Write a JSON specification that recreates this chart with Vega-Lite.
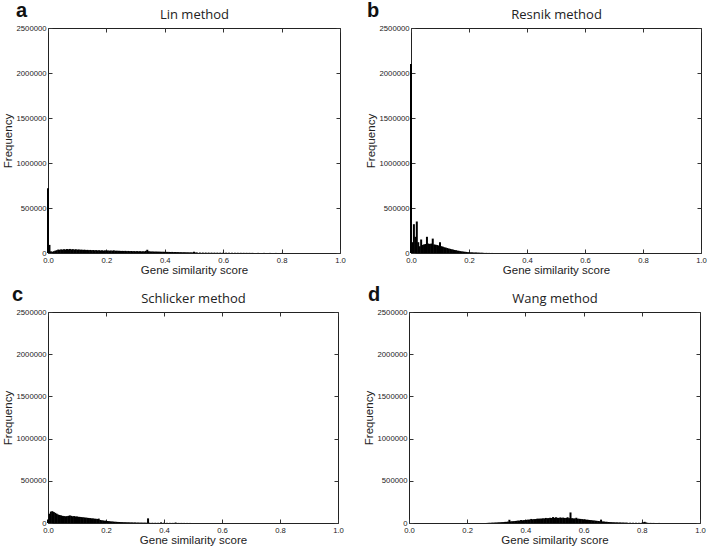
{
  "$schema": "https://vega.github.io/schema/vega-lite/v6.json",
  "padding": {"left": 1, "top": 0, "right": 0, "bottom": 0},
  "background": "white",
  "datasets": {
    "lin": [
      {"s":0.000,"f":720000},{"s":0.005,"f":90000},{"s":0.010,"f":18000},{"s":0.015,"f":14000},{"s":0.020,"f":20000},{"s":0.025,"f":26000},{"s":0.030,"f":31000},{"s":0.035,"f":38000},{"s":0.040,"f":36000},{"s":0.045,"f":40000},
      {"s":0.050,"f":38000},{"s":0.055,"f":42000},{"s":0.060,"f":39000},{"s":0.065,"f":44000},{"s":0.070,"f":41000},{"s":0.075,"f":45000},{"s":0.080,"f":40000},{"s":0.085,"f":43000},{"s":0.090,"f":38000},{"s":0.095,"f":42000},
      {"s":0.100,"f":37000},{"s":0.105,"f":40000},{"s":0.110,"f":36000},{"s":0.115,"f":38000},{"s":0.120,"f":34000},{"s":0.125,"f":37000},{"s":0.130,"f":33000},{"s":0.135,"f":35000},{"s":0.140,"f":32000},{"s":0.145,"f":34000},
      {"s":0.150,"f":31000},{"s":0.155,"f":33000},{"s":0.160,"f":30000},{"s":0.165,"f":32000},{"s":0.170,"f":29000},{"s":0.175,"f":31000},{"s":0.180,"f":28000},{"s":0.185,"f":30000},{"s":0.190,"f":27000},{"s":0.195,"f":29000},
      {"s":0.200,"f":27000},{"s":0.205,"f":28000},{"s":0.210,"f":26000},{"s":0.215,"f":28000},{"s":0.220,"f":25000},{"s":0.225,"f":30000},{"s":0.230,"f":25000},{"s":0.235,"f":26000},{"s":0.240,"f":24000},{"s":0.245,"f":25000},
      {"s":0.250,"f":23000},{"s":0.255,"f":24000},{"s":0.260,"f":22000},{"s":0.265,"f":24000},{"s":0.270,"f":21000},{"s":0.275,"f":23000},{"s":0.280,"f":21000},{"s":0.285,"f":22000},{"s":0.290,"f":20000},{"s":0.295,"f":21000},
      {"s":0.300,"f":19000},{"s":0.305,"f":21000},{"s":0.310,"f":19000},{"s":0.315,"f":20000},{"s":0.320,"f":18000},{"s":0.325,"f":19000},{"s":0.330,"f":18000},{"s":0.335,"f":24000},{"s":0.340,"f":36000},{"s":0.345,"f":20000},
      {"s":0.350,"f":17000},{"s":0.355,"f":17000},{"s":0.360,"f":16000},{"s":0.365,"f":16000},{"s":0.370,"f":15000},{"s":0.375,"f":16000},{"s":0.380,"f":14000},{"s":0.385,"f":15000},{"s":0.390,"f":13000},{"s":0.395,"f":14000},
      {"s":0.400,"f":13000},{"s":0.405,"f":13000},{"s":0.410,"f":12000},{"s":0.415,"f":12000},{"s":0.420,"f":11000},{"s":0.425,"f":12000},{"s":0.430,"f":10000},{"s":0.435,"f":11000},{"s":0.440,"f":10000},{"s":0.445,"f":10000},
      {"s":0.450,"f":9000},{"s":0.455,"f":9000},{"s":0.460,"f":8000},{"s":0.465,"f":8500},{"s":0.470,"f":8000},{"s":0.475,"f":7500},{"s":0.480,"f":7000},{"s":0.485,"f":7000},{"s":0.490,"f":6500},{"s":0.495,"f":6500},
      {"s":0.500,"f":14000},{"s":0.505,"f":6000},{"s":0.510,"f":5800},{"s":0.520,"f":5500},{"s":0.530,"f":5200},{"s":0.540,"f":5000},{"s":0.550,"f":4700},{"s":0.560,"f":4500},{"s":0.570,"f":4200},{"s":0.580,"f":4000},
      {"s":0.590,"f":3800},{"s":0.600,"f":3500},{"s":0.610,"f":3300},{"s":0.620,"f":3100},{"s":0.630,"f":2900},{"s":0.640,"f":2700},{"s":0.650,"f":2500},{"s":0.660,"f":2300},{"s":0.670,"f":2100},{"s":0.680,"f":2000},
      {"s":0.690,"f":1800},{"s":0.700,"f":1600},{"s":0.720,"f":1400},{"s":0.740,"f":1200},{"s":0.760,"f":1000},{"s":0.780,"f":900},{"s":0.800,"f":800}
    ],
    "resnik": [
      {"s":0.000,"f":2100000},{"s":0.005,"f":120000},{"s":0.010,"f":320000},{"s":0.015,"f":180000},{"s":0.020,"f":350000},{"s":0.025,"f":120000},{"s":0.030,"f":75000},{"s":0.035,"f":150000},{"s":0.040,"f":90000},{"s":0.045,"f":95000},
      {"s":0.050,"f":100000},{"s":0.055,"f":180000},{"s":0.060,"f":105000},{"s":0.065,"f":100000},{"s":0.070,"f":105000},{"s":0.075,"f":160000},{"s":0.080,"f":95000},{"s":0.085,"f":92000},{"s":0.090,"f":88000},{"s":0.095,"f":84000},
      {"s":0.100,"f":120000},{"s":0.105,"f":76000},{"s":0.110,"f":70000},{"s":0.115,"f":64000},{"s":0.120,"f":60000},{"s":0.125,"f":55000},{"s":0.130,"f":50000},{"s":0.135,"f":46000},{"s":0.140,"f":42000},{"s":0.145,"f":38000},
      {"s":0.150,"f":34000},{"s":0.155,"f":31000},{"s":0.160,"f":27000},{"s":0.165,"f":24000},{"s":0.170,"f":21000},{"s":0.175,"f":18000},{"s":0.180,"f":16000},{"s":0.185,"f":14000},{"s":0.190,"f":12000},{"s":0.195,"f":10000},
      {"s":0.200,"f":9000},{"s":0.205,"f":8000},{"s":0.210,"f":7000},{"s":0.215,"f":6000},{"s":0.220,"f":5000},{"s":0.225,"f":6000},{"s":0.230,"f":4000},{"s":0.235,"f":3500},{"s":0.240,"f":3000},{"s":0.245,"f":2500},
      {"s":0.250,"f":2000},{"s":0.260,"f":1500},{"s":0.270,"f":1000},{"s":0.280,"f":500}
    ],
    "schlicker": [
      {"s":0.000,"f":40000},{"s":0.005,"f":110000},{"s":0.010,"f":135000},{"s":0.015,"f":140000},{"s":0.020,"f":130000},{"s":0.025,"f":120000},{"s":0.030,"f":110000},{"s":0.035,"f":100000},{"s":0.040,"f":95000},{"s":0.045,"f":90000},
      {"s":0.050,"f":85000},{"s":0.055,"f":82000},{"s":0.060,"f":80000},{"s":0.065,"f":81000},{"s":0.070,"f":84000},{"s":0.075,"f":90000},{"s":0.080,"f":85000},{"s":0.085,"f":80000},{"s":0.090,"f":82000},{"s":0.095,"f":78000},
      {"s":0.100,"f":76000},{"s":0.105,"f":74000},{"s":0.110,"f":72000},{"s":0.115,"f":70000},{"s":0.120,"f":68000},{"s":0.125,"f":66000},{"s":0.130,"f":64000},{"s":0.135,"f":62000},{"s":0.140,"f":60000},{"s":0.145,"f":58000},
      {"s":0.150,"f":56000},{"s":0.155,"f":54000},{"s":0.160,"f":52000},{"s":0.165,"f":50000},{"s":0.170,"f":48000},{"s":0.175,"f":52000},{"s":0.180,"f":36000},{"s":0.185,"f":33000},{"s":0.190,"f":30000},{"s":0.195,"f":28000},
      {"s":0.200,"f":26000},{"s":0.205,"f":24000},{"s":0.210,"f":22000},{"s":0.215,"f":20000},{"s":0.220,"f":18000},{"s":0.225,"f":17000},{"s":0.230,"f":15000},{"s":0.235,"f":14000},{"s":0.240,"f":13000},{"s":0.245,"f":12000},
      {"s":0.250,"f":11000},{"s":0.255,"f":10000},{"s":0.260,"f":9500},{"s":0.265,"f":9000},{"s":0.270,"f":8500},{"s":0.275,"f":8000},{"s":0.280,"f":7500},{"s":0.285,"f":7000},{"s":0.290,"f":6500},{"s":0.295,"f":6000},
      {"s":0.300,"f":5500},{"s":0.305,"f":5000},{"s":0.310,"f":4800},{"s":0.315,"f":4500},{"s":0.320,"f":4200},{"s":0.325,"f":4000},{"s":0.330,"f":3800},{"s":0.335,"f":3600},{"s":0.340,"f":3500},{"s":0.345,"f":55000},
      {"s":0.350,"f":3200},{"s":0.360,"f":3000},{"s":0.370,"f":2800},{"s":0.380,"f":2600},{"s":0.390,"f":8000},{"s":0.400,"f":2200},{"s":0.410,"f":2000},{"s":0.420,"f":1800},{"s":0.430,"f":1600},{"s":0.440,"f":6000},
      {"s":0.450,"f":1300},{"s":0.460,"f":1200},{"s":0.470,"f":1000},{"s":0.480,"f":800},{"s":0.490,"f":600},{"s":0.500,"f":500}
    ],
    "wang": [
      {"s":0.270,"f":1500},{"s":0.275,"f":2000},{"s":0.280,"f":3000},{"s":0.285,"f":3500},{"s":0.290,"f":4500},{"s":0.295,"f":5000},{"s":0.300,"f":6000},{"s":0.305,"f":7000},{"s":0.310,"f":8000},{"s":0.315,"f":9000},
      {"s":0.320,"f":10000},{"s":0.325,"f":11000},{"s":0.330,"f":13000},{"s":0.335,"f":14000},{"s":0.340,"f":16000},{"s":0.345,"f":38000},{"s":0.350,"f":19000},{"s":0.355,"f":21000},{"s":0.360,"f":22000},{"s":0.365,"f":24000},
      {"s":0.370,"f":26000},{"s":0.375,"f":28000},{"s":0.380,"f":29000},{"s":0.385,"f":35000},{"s":0.390,"f":32000},{"s":0.395,"f":34000},{"s":0.400,"f":36000},{"s":0.405,"f":38000},{"s":0.410,"f":40000},{"s":0.415,"f":41000},
      {"s":0.420,"f":48000},{"s":0.425,"f":44000},{"s":0.430,"f":46000},{"s":0.435,"f":47000},{"s":0.440,"f":49000},{"s":0.445,"f":52000},{"s":0.450,"f":51000},{"s":0.455,"f":53000},{"s":0.460,"f":55000},{"s":0.465,"f":54000},
      {"s":0.470,"f":60000},{"s":0.475,"f":57000},{"s":0.480,"f":58000},{"s":0.485,"f":62000},{"s":0.490,"f":59000},{"s":0.495,"f":70000},{"s":0.500,"f":61000},{"s":0.505,"f":68000},{"s":0.510,"f":62000},{"s":0.515,"f":60000},
      {"s":0.520,"f":66000},{"s":0.525,"f":61000},{"s":0.530,"f":64000},{"s":0.535,"f":59000},{"s":0.540,"f":60000},{"s":0.545,"f":68000},{"s":0.550,"f":58000},{"s":0.555,"f":125000},{"s":0.560,"f":57000},{"s":0.565,"f":55000},
      {"s":0.570,"f":54000},{"s":0.575,"f":62000},{"s":0.580,"f":51000},{"s":0.585,"f":50000},{"s":0.590,"f":48000},{"s":0.595,"f":46000},{"s":0.600,"f":44000},{"s":0.605,"f":42000},{"s":0.610,"f":40000},{"s":0.615,"f":38000},
      {"s":0.620,"f":36000},{"s":0.625,"f":34000},{"s":0.630,"f":32000},{"s":0.635,"f":30000},{"s":0.640,"f":28000},{"s":0.645,"f":26000},{"s":0.650,"f":24000},{"s":0.655,"f":22000},{"s":0.660,"f":40000},{"s":0.665,"f":19000},
      {"s":0.670,"f":17000},{"s":0.675,"f":15000},{"s":0.680,"f":14000},{"s":0.685,"f":12000},{"s":0.690,"f":11000},{"s":0.695,"f":10000},{"s":0.700,"f":9000},{"s":0.705,"f":8000},{"s":0.710,"f":7500},{"s":0.715,"f":7000},
      {"s":0.720,"f":6500},{"s":0.725,"f":6000},{"s":0.730,"f":5500},{"s":0.735,"f":5000},{"s":0.740,"f":4500},{"s":0.745,"f":4000},{"s":0.750,"f":3800},{"s":0.760,"f":3500},{"s":0.770,"f":3000},{"s":0.780,"f":2800},
      {"s":0.790,"f":2500},{"s":0.800,"f":3000},{"s":0.805,"f":9000},{"s":0.810,"f":14000},{"s":0.815,"f":6000},{"s":0.820,"f":2000},{"s":0.830,"f":1500},{"s":0.840,"f":1000},{"s":0.860,"f":800},{"s":0.880,"f":500},{"s":0.900,"f":300}
    ]
  },
  "vconcat": [
    {
      "hconcat": [
        {
          "width": 292, "height": 225,
          "title": {"text": "a", "anchor": "start", "frame": "bounds", "offset": -12, "dx": 14},
          "data": {"name": "lin"},
          "layer": [
            {"mark": {"type": "bar", "color": "black", "width": 2},
             "encoding": {
               "x": {"field": "s", "type": "quantitative", "scale": {"domain": [0, 1], "padding": 0, "nice": false}, "axis": {"orient": "bottom", "values": [0, 0.2, 0.4, 0.6, 0.8, 1], "format": ".1f", "title": "Gene similarity score"}},
               "y": {"field": "f", "type": "quantitative", "scale": {"domain": [0, 2500000], "nice": false}, "axis": {"orient": "left", "values": [0, 500000, 1000000, 1500000, 2000000, 2500000], "format": "d", "title": "Frequency"}}}},
            {"mark": {"type": "bar", "opacity": 0, "width": 1},
             "encoding": {
               "x": {"field": "s", "type": "quantitative", "axis": {"orient": "top", "values": [0, 0.2, 0.4, 0.6, 0.8, 1], "labels": false, "title": "Lin method", "titleFont": "Open Sans", "titleFontSize": 13, "titlePadding": 6}},
               "y": {"field": "f", "type": "quantitative", "axis": {"orient": "right", "values": [0, 500000, 1000000, 1500000, 2000000, 2500000], "labels": false, "title": null}}}}
          ],
          "resolve": {"axis": {"x": "independent", "y": "independent"}}
        },
        {
          "width": 290, "height": 225,
          "title": {"text": "b", "anchor": "start", "frame": "bounds", "offset": -12, "dx": 2},
          "data": {"name": "resnik"},
          "layer": [
            {"mark": {"type": "bar", "color": "black", "width": 2},
             "encoding": {
               "x": {"field": "s", "type": "quantitative", "scale": {"domain": [0, 1], "padding": 0, "nice": false}, "axis": {"orient": "bottom", "values": [0, 0.2, 0.4, 0.6, 0.8, 1], "format": ".1f", "title": "Gene similarity score"}},
               "y": {"field": "f", "type": "quantitative", "scale": {"domain": [0, 2500000], "nice": false}, "axis": {"orient": "left", "values": [0, 500000, 1000000, 1500000, 2000000, 2500000], "format": "d", "title": "Frequency"}}}},
            {"mark": {"type": "bar", "opacity": 0, "width": 1},
             "encoding": {
               "x": {"field": "s", "type": "quantitative", "axis": {"orient": "top", "values": [0, 0.2, 0.4, 0.6, 0.8, 1], "labels": false, "title": "Resnik method", "titleFont": "Open Sans", "titleFontSize": 13, "titlePadding": 6}},
               "y": {"field": "f", "type": "quantitative", "axis": {"orient": "right", "values": [0, 500000, 1000000, 1500000, 2000000, 2500000], "labels": false, "title": null}}}}
          ],
          "resolve": {"axis": {"x": "independent", "y": "independent"}}
        }
      ]
    },
    {
      "hconcat": [
        {
          "width": 290, "height": 211,
          "title": {"text": "c", "anchor": "start", "frame": "bounds", "offset": -12, "dx": 10},
          "data": {"name": "schlicker"},
          "layer": [
            {"mark": {"type": "bar", "color": "black", "width": 2},
             "encoding": {
               "x": {"field": "s", "type": "quantitative", "scale": {"domain": [0, 1], "padding": 0, "nice": false}, "axis": {"orient": "bottom", "values": [0, 0.2, 0.4, 0.6, 0.8, 1], "format": ".1f", "title": "Gene similarity score"}},
               "y": {"field": "f", "type": "quantitative", "scale": {"domain": [0, 2500000], "nice": false}, "axis": {"orient": "left", "values": [0, 500000, 1000000, 1500000, 2000000, 2500000], "format": "d", "title": "Frequency"}}}},
            {"mark": {"type": "bar", "opacity": 0, "width": 1},
             "encoding": {
               "x": {"field": "s", "type": "quantitative", "axis": {"orient": "top", "values": [0, 0.2, 0.4, 0.6, 0.8, 1], "labels": false, "title": "Schlicker method", "titleFont": "Open Sans", "titleFontSize": 13, "titlePadding": 6}},
               "y": {"field": "f", "type": "quantitative", "axis": {"orient": "right", "values": [0, 500000, 1000000, 1500000, 2000000, 2500000], "labels": false, "title": null}}}}
          ],
          "resolve": {"axis": {"x": "independent", "y": "independent"}}
        },
        {
          "width": 291, "height": 211,
          "title": {"text": "d", "anchor": "start", "frame": "bounds", "offset": -12, "dx": 5},
          "data": {"name": "wang"},
          "layer": [
            {"mark": {"type": "bar", "color": "black", "width": 2},
             "encoding": {
               "x": {"field": "s", "type": "quantitative", "scale": {"domain": [0, 1], "padding": 0, "nice": false}, "axis": {"orient": "bottom", "values": [0, 0.2, 0.4, 0.6, 0.8, 1], "format": ".1f", "title": "Gene similarity score"}},
               "y": {"field": "f", "type": "quantitative", "scale": {"domain": [0, 2500000], "nice": false}, "axis": {"orient": "left", "values": [0, 500000, 1000000, 1500000, 2000000, 2500000], "format": "d", "title": "Frequency"}}}},
            {"mark": {"type": "bar", "opacity": 0, "width": 1},
             "encoding": {
               "x": {"field": "s", "type": "quantitative", "axis": {"orient": "top", "values": [0, 0.2, 0.4, 0.6, 0.8, 1], "labels": false, "title": "Wang method", "titleFont": "Open Sans", "titleFontSize": 13, "titlePadding": 6}},
               "y": {"field": "f", "type": "quantitative", "axis": {"orient": "right", "values": [0, 500000, 1000000, 1500000, 2000000, 2500000], "labels": false, "title": null}}}}
          ],
          "resolve": {"axis": {"x": "independent", "y": "independent"}}
        }
      ]
    }
  ],
  "spacing": 7,
  "config": {
    "concat": {"spacing": 18},
    "view": {"stroke": "#222", "strokeWidth": 1},
    "axis": {
      "grid": false, "domain": false, "ticks": true, "zindex": 1, "offset": -4, "labelFlush": false,
      "tickColor": "#333", "tickSize": 4, "tickWidth": 1, "tickOpacity": 1,
      "labelFont": "Liberation Sans", "labelFontSize": 7.7, "labelColor": "#222", "labelPadding": 2,
      "titleFont": "Liberation Sans", "titleFontSize": 11.5, "titleFontWeight": "normal", "titleColor": "#222"
    },
    "axisBottom": {"titlePadding": 0, "labelPadding": 3.5},
    "axisLeft": {"titlePadding": 3},
    "title": {"font": "Liberation Sans", "fontSize": 20, "fontWeight": "bold", "color": "#111"}
  }
}
